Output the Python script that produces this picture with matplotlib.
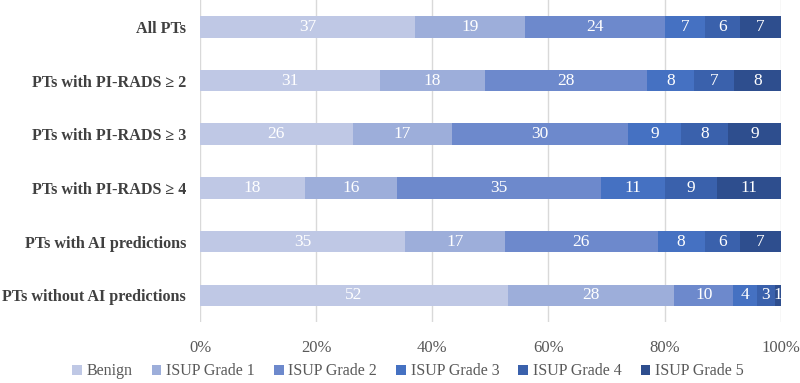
import matplotlib.pyplot as plt
import numpy as np

plt.rcParams['font.family'] = ['Liberation Serif', 'DejaVu Serif']

groups = ['All PTs', 'PTs with PI-RADS ≥ 2', 'PTs with PI-RADS ≥ 3',
          'PTs with PI-RADS ≥ 4', 'PTs with AI predictions', 'PTs without AI predictions']
grades = ['Benign', 'ISUP Grade 1', 'ISUP Grade 2', 'ISUP Grade 3', 'ISUP Grade 4', 'ISUP Grade 5']

benign = [37, 31, 26, 18, 35, 52]
grade1 = [19, 18, 17, 16, 17, 28]
grade2 = [24, 28, 30, 35, 26, 10]
grade3 = [7, 8, 9, 11, 8, 4]
grade4 = [6, 7, 8, 9, 6, 3]
grade5 = [7, 8, 9, 11, 7, 1]

colors = ['#BFC8E5', '#9DAEDA', '#6D89CC', '#4571C2', '#3A61AC', '#2E4E8E']

data = np.array([benign, grade1, grade2, grade3, grade4, grade5], dtype=float)
totals = data.sum(axis=0)
shares = data / totals

fig = plt.figure(figsize=(8, 3.83), dpi=100)
ax = fig.add_axes([0.25, 0.159, 0.726, 0.841])

y = np.arange(len(groups))
left = np.zeros(len(groups))
for i, name in enumerate(grades):
    bars = ax.barh(y, shares[i], left=left, height=0.4, color=colors[i], label=name, zorder=3)
    for j, b in enumerate(bars):
        ax.text(left[j] + shares[i][j] / 2, y[j], '%d' % data[i][j], ha='center', va='center',
                color='white', fontsize=12.5, zorder=4)
    left += shares[i]

ax.set_ylim(len(groups) - 0.5, -0.5)
ax.set_xlim(0, 1)
ax.set_yticks(y)
ax.set_yticklabels(groups, fontweight='bold', fontsize=11.6, color='#404040')
ax.set_xticks(np.linspace(0, 1, 6))
ax.set_xticklabels(['0%', '20%', '40%', '60%', '80%', '100%'], fontsize=12, color='#595959')
ax.tick_params(axis='y', length=0, pad=10)
ax.tick_params(axis='x', length=0, pad=13)
ax.xaxis.grid(True, color='#D9D9D9', linewidth=1, zorder=0)
for s in ax.spines.values():
    s.set_visible(False)

fig.legend(loc='lower center', bbox_to_anchor=(0.51, -0.028), ncol=6, frameon=False,
           fontsize=11.5, handlelength=0.6, handleheight=0.6, handletextpad=0.3, columnspacing=1.2,
           labelcolor='#595959')

fig.savefig('out.png', dpi=100)
